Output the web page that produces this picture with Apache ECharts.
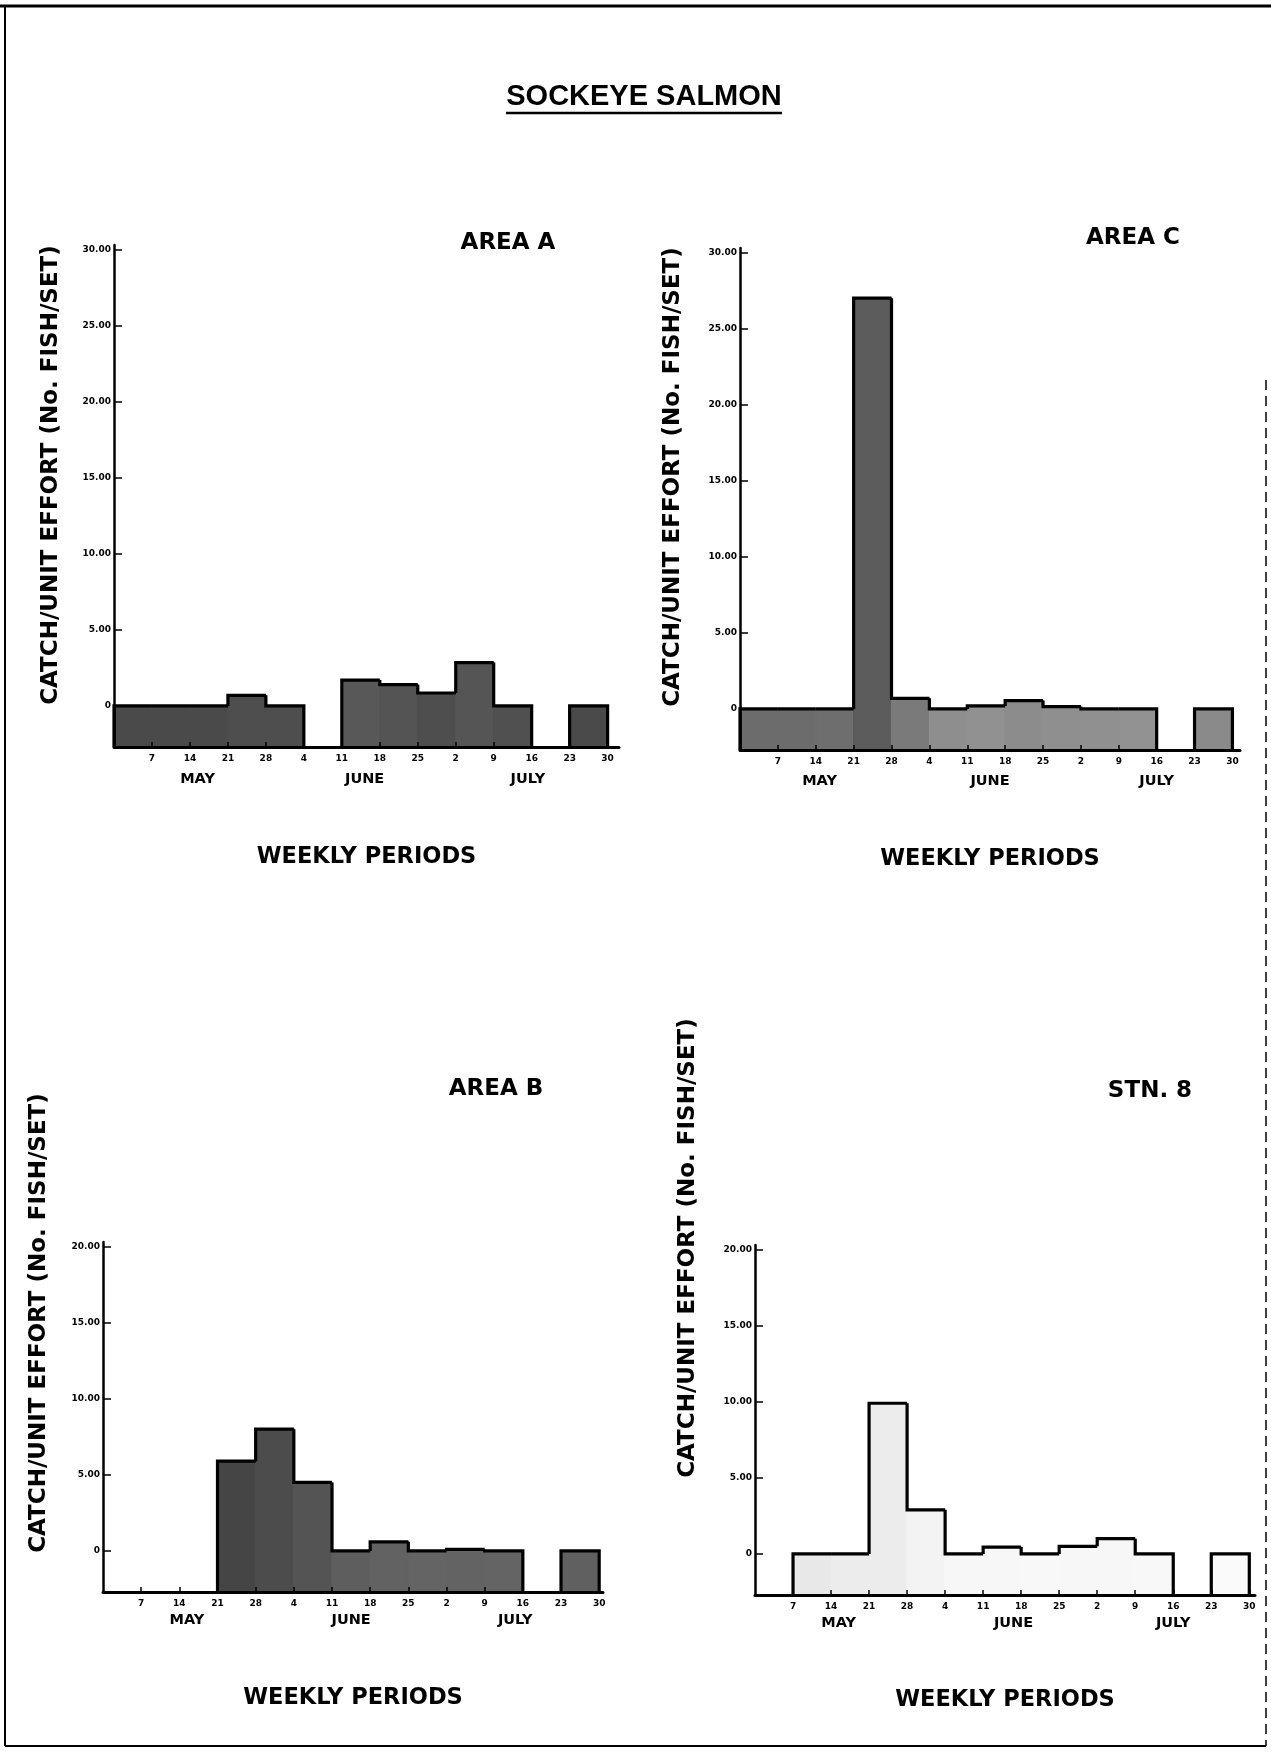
<!DOCTYPE html>
<html><head><meta charset="utf-8">
<script src="https://cdn.jsdelivr.net/npm/echarts@6/dist/echarts.min.js"></script>
<style>html,body{margin:0;padding:0;background:#fff}#c{width:1271px;height:1751px}</style>
</head><body><div id="c"></div>
<script>
// ---- data ----
const weekTickLabels = ['7','14','21','28','4','11','18','25','2','9','16','23','30'];
const monthLabels = ['MAY','JUNE','JULY'];
const yTicksTall = [0,5,10,15,20,25,30];
const yTicksShort = [0,5,10,15,20];
// weekly catch/unit effort; week 0 = Apr 30-May 7 ... week 12 = Jul 23-30; null = no sets
const areaA = [0,0,0,0.7,0,null,1.7,1.4,0.85,2.85,0,null,0];
const areaC = [0,0,0,27.0,0.7,0,0.2,0.55,0.15,0,0,null,0];
const areaB = [null,null,null,5.9,8.0,4.5,0,0.6,0,0.1,0,null,0];
const stn8  = [null,0,0,9.9,2.9,0,0.45,0,0.5,1.0,0,null,0];

// ---- layout / style ----
const FONT = 'DejaVu Sans';
const Y_MIN = -2.7;
const panels = [
  {label:'AREA A', labelPos:[508,243], data:areaA, yTicks:yTicksTall, yMax:30.3,
   grid:{left:114,top:245,width:505,height:502}, xMax:13.3, monthPos:[2.2,6.6,10.9],
   monthMargin:25, nameGap:99, ytitle:[51,475],
   fills:['#4a4a4a','#4a4a4a','#4a4a4a','#4e4e4e','#4e4e4e',null,'#585858','#545454','#4e4e4e','#555','#505050',null,'#4a4a4a']},
  {label:'AREA C', labelPos:[1133,238], data:areaC, yTicks:yTicksTall, yMax:30.3,
   grid:{left:740,top:248,width:500,height:502}, xMax:13.2, monthPos:[2.1,6.6,11.0],
   monthMargin:24, nameGap:98, ytitle:[673,477],
   fills:['#6c6c6c','#6c6c6c','#6e6e6e','#5c5c5c','#7a7a7a','#8e8e8e','#919191','#8c8c8c','#8f8f8f','#909090','#929292',null,'#8a8a8a']},
  {label:'AREA B', labelPos:[496,1089], data:areaB, yTicks:yTicksShort, yMax:20.3,
   grid:{left:103,top:1242,width:500,height:350}, xMax:13.1, monthPos:[2.2,6.5,10.8],
   monthMargin:21, nameGap:95, ytitle:[39,1323],
   fills:[null,null,null,'#454545','#4c4c4c','#545454','#5e5e5e','#626262','#646464','#636363','#646464',null,'#606060']},
  {label:'STN. 8', labelPos:[1150,1091], data:stn8, yTicks:yTicksShort, yMax:20.3,
   grid:{left:755,top:1245,width:500,height:350}, xMax:13.15, monthPos:[2.2,6.8,11.0],
   monthMargin:21, nameGap:94, ytitle:[688,1248],
   fills:[null,'#e8e8e8','#ececec','#ececec','#f3f3f3','#f7f7f7','#f7f7f7','#f8f8f8','#f7f7f7','#f7f7f7','#f8f8f8',null,'#fafafa']}
];

const weekIdx = weekTickLabels.map((_, i) => i + 1);

function makeRender(vals, fills) {
  return function (params, api) {
    const i = api.value(0), v = api.value(1);
    if (isNaN(v)) return;
    const fill = fills[i] || '#777';
    const tl = api.coord([i, v]);
    const br = api.coord([i + 1, Y_MIN]);
    const prev = i > 0 ? vals[i - 1] : null;
    const next = i < vals.length - 1 ? vals[i + 1] : null;
    const yl = api.coord([i, prev == null ? Y_MIN : prev])[1];
    const pts = [[tl[0], yl], [tl[0], tl[1]], [br[0], tl[1]]];
    if (next == null) pts.push([br[0], br[1]]);
    return {
      type: 'group',
      children: [
        {type:'rect', z2:0, shape:{x:tl[0], y:tl[1], width:br[0]-tl[0], height:br[1]-tl[1]},
         style:{fill:fill, stroke:fill, lineWidth:1.2}},
        {type:'polyline', z2:10, shape:{points:pts}, style:{stroke:'#000', lineWidth:3.2, fill:null, lineJoin:'miter'}}
      ]
    };
  };
}

const grid = [], xAxis = [], yAxis = [], series = [], graphic = [];
panels.forEach((p, k) => {
  grid.push(Object.assign({containLabel:false}, p.grid));
  xAxis.push({
    type:'value', gridIndex:k, min:0, max:p.xMax, z:5,
    axisLine:{show:true, onZero:false, lineStyle:{color:'#000', width:3}},
    axisTick:{show:true, inside:true, length:5, customValues:weekIdx, lineStyle:{color:'#000', width:1.5}},
    axisLabel:{show:true, customValues:weekIdx, margin:7, fontSize:9, fontWeight:'bold', fontFamily:FONT, color:'#000',
      formatter: v => weekTickLabels[Math.round(v) - 1] || ''},
    splitLine:{show:false},
    name:'WEEKLY PERIODS', nameLocation:'middle', nameGap:p.nameGap,
    nameTextStyle:{fontSize:22.5, fontWeight:'bold', fontFamily:FONT, color:'#000'}
  });
  xAxis.push({
    type:'value', gridIndex:k, min:0, max:p.xMax, position:'bottom',
    axisLine:{show:false}, axisTick:{show:false}, splitLine:{show:false},
    axisLabel:{show:true, customValues:p.monthPos, margin:p.monthMargin, fontSize:14.5, fontWeight:'bold',
      fontFamily:FONT, color:'#000',
      formatter: v => { const j = p.monthPos.findIndex(m => Math.abs(m - v) < 1e-6); return j >= 0 ? monthLabels[j] : ''; }}
  });
  yAxis.push({
    type:'value', gridIndex:k, min:Y_MIN, max:p.yMax, z:5,
    axisLine:{show:true, onZero:false, lineStyle:{color:'#000', width:2.5}},
    axisTick:{show:true, inside:true, length:8, customValues:p.yTicks, lineStyle:{color:'#000', width:1.5}},
    axisLabel:{show:true, customValues:p.yTicks, margin:3, fontSize:9, fontWeight:'bold', fontFamily:FONT, color:'#000',
      formatter: v => v === 0 ? '0' : v.toFixed(2)},
    splitLine:{show:false}
  });
  series.push({
    type:'custom', xAxisIndex:2*k, yAxisIndex:k, clip:false,
    renderItem: makeRender(p.data, p.fills),
    encode:{x:0, y:1},
    data: p.data.map((v, i) => [i, v]).filter(d => d[1] !== null)
  });
  graphic.push({type:'text', x:p.labelPos[0], y:p.labelPos[1],
    style:{text:p.label, font:'bold 23px "DejaVu Sans"', fill:'#000', align:'center', verticalAlign:'middle'}});
  graphic.push({type:'text', x:p.ytitle[0], y:p.ytitle[1], rotation:Math.PI/2,
    style:{text:'CATCH/UNIT EFFORT (No. FISH/SET)', font:'bold 23px "DejaVu Sans"', fill:'#000', align:'center', verticalAlign:'middle'}});
});

// page title + frame
graphic.push({type:'text', x:644, y:97,
  style:{text:'SOCKEYE SALMON', font:'bold 29px "Liberation Sans"', fill:'#000', align:'center', verticalAlign:'middle'}});
graphic.push({type:'line', shape:{x1:506, y1:113, x2:782, y2:113}, style:{stroke:'#000', lineWidth:2.5}});
graphic.push({type:'line', shape:{x1:0, y1:6, x2:1271, y2:6}, style:{stroke:'#000', lineWidth:3}});
graphic.push({type:'line', shape:{x1:5, y1:6, x2:5, y2:1746}, style:{stroke:'#000', lineWidth:2}});
graphic.push({type:'line', shape:{x1:5, y1:1746, x2:1266, y2:1746}, style:{stroke:'#000', lineWidth:2}});
graphic.push({type:'line', shape:{x1:1266, y1:380, x2:1266, y2:1746}, style:{stroke:'#000', lineWidth:1.5, lineDash:[10,6]}});

const chart = echarts.init(document.getElementById('c'), null, {renderer:'canvas'});
chart.setOption({backgroundColor:'#fff', animation:false, grid, xAxis, yAxis, series, graphic});
</script></body></html>
